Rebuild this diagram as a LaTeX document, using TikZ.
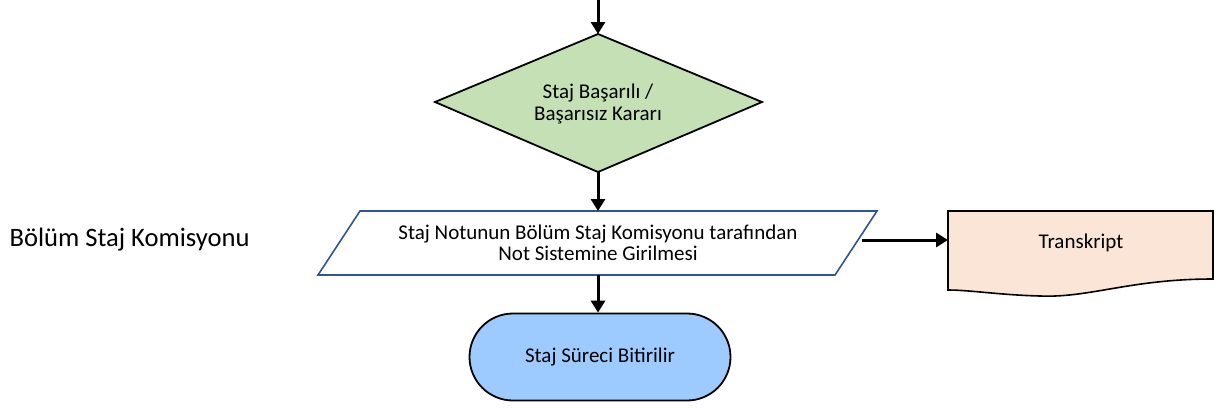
\documentclass[tikz,border=0pt]{standalone}
\usepackage{fontspec}
\setmainfont{Carlito}
\usetikzlibrary{shapes.geometric,shapes.misc,arrows.meta}
\definecolor{dgreen}{HTML}{C5E0B4}
\definecolor{tpeach}{HTML}{FBE5D6}
\definecolor{tblue}{HTML}{9DCBFF}
\definecolor{pblue}{HTML}{2F5597}
\tikzset{
  conn/.style={line width=3pt,-{Triangle[length=12pt,width=14pt]}},
  txt/.style={font=\fontsize{21}{21.5}\selectfont,align=center},
}
\begin{document}
\begin{tikzpicture}[x=1pt,y=-1pt]
\useasboundingbox (0,0) rectangle (1214,408);
% decision
\draw[line width=1.8pt,fill=dgreen] (598,34) -- (762,102) -- (598,172) -- (435,102) -- cycle;
\node[txt] (dec) at (598,104) {Staj Başarılı /\\Başarısız Kararı};
\coordinate (dtop) at (598,34);
\coordinate (dbot) at (598,172);
\coordinate (start) at (598,0);
% parallelogram
\draw[line width=1.6pt,draw=pblue,fill=white] (360,211) -- (877,211) -- (835,275) -- (318,275) -- cycle;
\node[txt] (par) at (598,243) {Staj Notunun Bölüm Staj Komisyonu tarafından\\Not Sistemine Girilmesi};
\coordinate (ptop) at (598,211);
\coordinate (pbot) at (598,275);
\coordinate (pright) at (862,240);
% document
\draw[line width=1.6pt,fill=tpeach] (948,290) -- (948,211) -- (1213,211) -- (1213,279)
  .. controls (1130,279) and (1090,298) .. (1040,296)
  .. controls (1000,295) and (970,290) .. (948,290) -- cycle;
\node[txt] (doc) at (1081,243) {Transkript};
\coordinate (dleft) at (948,240);
% terminal
\node[txt,draw,line width=1.8pt,fill=tblue,rounded rectangle,minimum width=261pt,minimum height=87pt,inner sep=0pt] (term) at (600,357) {Staj Süreci Bitirilir};
% label
\node[font=\fontsize{26.6}{30}\selectfont,anchor=west] (lab) at (6,240) {Bölüm Staj Komisyonu};
% connectors
\draw[conn] (start) -- (dtop);
\draw[conn] (dbot) -- (ptop);
\draw[conn] (pbot) -- (term.north -| pbot);
\draw[conn] (pright) -- (dleft);
\end{tikzpicture}
\end{document}
